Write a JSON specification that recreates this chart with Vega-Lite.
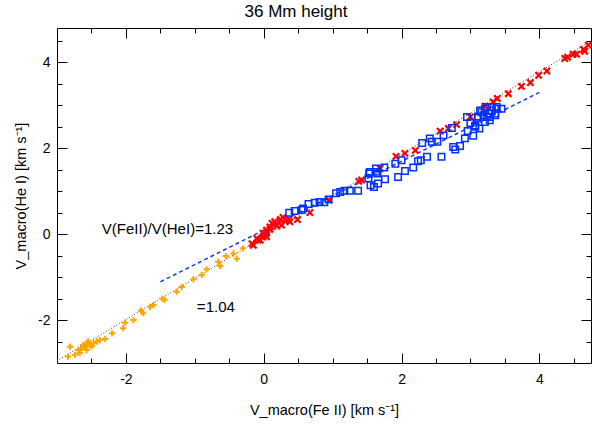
{
  "$schema": "https://vega.github.io/schema/vega-lite/v6.json",
  "width": 534,
  "height": 335,
  "autosize": {"type": "none"},
  "padding": {"left": 57, "top": 28, "right": 1, "bottom": 63},
  "background": "white",
  "title": {"text": "36 Mm height", "font": "Liberation Sans", "fontSize": 17, "fontWeight": "normal", "color": "black", "anchor": "middle", "dx": -28, "offset": 7},
  "config": {
    "view": {"stroke": "black", "strokeWidth": 1},
    "axis": {"grid": true, "gridColor": "black", "gridWidth": 1, "gridOpacity": 1, "ticks": false, "domain": false, "tickCount": 100,
      "labelFont": "Liberation Sans", "labelFontSize": 14, "labelColor": "black", "labelFlush": false, "labelOverlap": false,
      "titleFont": "Liberation Sans", "titleFontSize": 14.5, "titleFontWeight": "normal", "titleColor": "black"}
  },
  "datasets": {
    "orange": [
      {"x": -2.84, "y": -2.85}, {"x": -2.74, "y": -2.81}, {"x": -2.81, "y": -2.62}, {"x": -2.69, "y": -2.70},
      {"x": -2.67, "y": -2.77}, {"x": -2.64, "y": -2.66}, {"x": -2.59, "y": -2.62}, {"x": -2.57, "y": -2.70},
      {"x": -2.55, "y": -2.50}, {"x": -2.52, "y": -2.58}, {"x": -2.47, "y": -2.54}, {"x": -2.42, "y": -2.50},
      {"x": -2.38, "y": -2.47}, {"x": -2.30, "y": -2.44}, {"x": -2.20, "y": -2.31}, {"x": -2.04, "y": -2.19},
      {"x": -2.01, "y": -2.06}, {"x": -1.89, "y": -2.00}, {"x": -1.78, "y": -1.78}, {"x": -1.75, "y": -1.84},
      {"x": -1.65, "y": -1.69}, {"x": -1.60, "y": -1.65}, {"x": -1.47, "y": -1.50}, {"x": -1.44, "y": -1.53},
      {"x": -1.26, "y": -1.34}, {"x": -1.19, "y": -1.23}, {"x": -1.02, "y": -1.05}, {"x": -0.90, "y": -0.95},
      {"x": -0.83, "y": -0.82}, {"x": -0.66, "y": -0.64}, {"x": -0.63, "y": -0.74}, {"x": -0.55, "y": -0.51},
      {"x": -0.39, "y": -0.57}, {"x": -0.44, "y": -0.45}, {"x": -0.30, "y": -0.33}, {"x": 0.21, "y": 0.33},
      {"x": -0.03, "y": -0.06}, {"x": -2.62, "y": -2.58}, {"x": -2.50, "y": -2.62}, {"x": -2.57, "y": -2.55}
    ],
    "red": [
      {"x": -0.17, "y": -0.22}, {"x": -0.15, "y": -0.26}, {"x": -0.10, "y": -0.10}, {"x": -0.08, "y": -0.14},
      {"x": -0.05, "y": -0.14}, {"x": -0.01, "y": 0.02}, {"x": -0.01, "y": -0.06}, {"x": 0.04, "y": 0.09},
      {"x": 0.04, "y": -0.06}, {"x": 0.04, "y": 0.02}, {"x": 0.09, "y": 0.17}, {"x": 0.09, "y": 0.11},
      {"x": 0.12, "y": 0.25}, {"x": 0.16, "y": 0.29}, {"x": 0.19, "y": 0.19}, {"x": 0.24, "y": 0.34},
      {"x": 0.26, "y": 0.21}, {"x": 0.28, "y": 0.39}, {"x": 0.31, "y": 0.33}, {"x": 0.36, "y": 0.34},
      {"x": 0.38, "y": 0.29}, {"x": 0.49, "y": 0.34}, {"x": 0.67, "y": 0.50}, {"x": 0.95, "y": 0.79},
      {"x": 1.38, "y": 1.23}, {"x": 1.42, "y": 1.26}, {"x": 1.69, "y": 1.53}, {"x": 1.92, "y": 1.81},
      {"x": 2.05, "y": 1.88}, {"x": 2.20, "y": 1.95}, {"x": 2.56, "y": 2.40}, {"x": 2.68, "y": 2.46},
      {"x": 2.80, "y": 2.55}, {"x": 3.00, "y": 2.73}, {"x": 3.21, "y": 2.98}, {"x": 3.33, "y": 3.08},
      {"x": 3.39, "y": 3.16}, {"x": 3.55, "y": 3.27}, {"x": 3.74, "y": 3.44}, {"x": 3.87, "y": 3.53},
      {"x": 3.99, "y": 3.70}, {"x": 4.11, "y": 3.80}, {"x": 4.37, "y": 4.09}, {"x": 4.41, "y": 4.12},
      {"x": 4.49, "y": 4.19}, {"x": 4.54, "y": 4.19}, {"x": 4.64, "y": 4.30}, {"x": 4.66, "y": 4.26},
      {"x": 4.71, "y": 4.40}
    ],
    "blue": [
      {"x": 0.37, "y": 0.50}, {"x": 0.45, "y": 0.54}, {"x": 0.55, "y": 0.56}, {"x": 0.57, "y": 0.60},
      {"x": 0.65, "y": 0.70}, {"x": 0.74, "y": 0.73}, {"x": 0.81, "y": 0.75}, {"x": 0.88, "y": 0.74},
      {"x": 0.94, "y": 0.81}, {"x": 1.05, "y": 0.95}, {"x": 1.11, "y": 0.98}, {"x": 1.17, "y": 1.01},
      {"x": 1.25, "y": 1.01}, {"x": 1.37, "y": 1.01}, {"x": 1.52, "y": 1.30}, {"x": 1.53, "y": 1.41},
      {"x": 1.63, "y": 1.45}, {"x": 1.63, "y": 1.53}, {"x": 1.60, "y": 1.10}, {"x": 1.66, "y": 1.18},
      {"x": 1.55, "y": 1.14}, {"x": 1.76, "y": 1.28}, {"x": 1.95, "y": 1.33}, {"x": 2.05, "y": 1.47},
      {"x": 2.17, "y": 1.55}, {"x": 2.24, "y": 1.70}, {"x": 2.37, "y": 1.80}, {"x": 1.54, "y": 1.45},
      {"x": 1.65, "y": 1.41}, {"x": 1.75, "y": 1.55}, {"x": 1.91, "y": 1.64}, {"x": 2.00, "y": 1.72},
      {"x": 2.28, "y": 1.72}, {"x": 2.58, "y": 1.80}, {"x": 2.30, "y": 2.12}, {"x": 2.41, "y": 2.23},
      {"x": 2.44, "y": 2.15}, {"x": 2.52, "y": 2.15}, {"x": 2.61, "y": 2.30}, {"x": 2.73, "y": 2.47},
      {"x": 2.75, "y": 2.03}, {"x": 2.85, "y": 2.05}, {"x": 2.78, "y": 1.97}, {"x": 2.92, "y": 2.23},
      {"x": 3.04, "y": 2.29}, {"x": 2.96, "y": 2.40}, {"x": 2.95, "y": 2.73}, {"x": 3.00, "y": 2.59},
      {"x": 3.07, "y": 2.53}, {"x": 3.13, "y": 2.46}, {"x": 3.11, "y": 2.74}, {"x": 3.16, "y": 2.84},
      {"x": 3.21, "y": 2.92}, {"x": 3.26, "y": 2.81}, {"x": 3.31, "y": 2.88}, {"x": 3.36, "y": 2.77},
      {"x": 3.28, "y": 2.65}, {"x": 3.21, "y": 2.61}, {"x": 3.38, "y": 2.92}, {"x": 3.24, "y": 2.73},
      {"x": 3.14, "y": 2.88}, {"x": 3.24, "y": 2.96}, {"x": 3.31, "y": 2.96}, {"x": 3.38, "y": 2.96},
      {"x": 3.45, "y": 2.92}, {"x": 3.19, "y": 2.77}, {"x": 3.28, "y": 2.73}, {"x": 3.36, "y": 2.81},
      {"x": 3.11, "y": 2.71}, {"x": 3.07, "y": 2.50}
    ],
    "fit104": [{"x": -3.0, "y": -2.95}, {"x": 4.75, "y": 4.50}],
    "fit123": [{"x": -1.5, "y": -1.11}, {"x": 4.0, "y": 3.30}],
    "notes": [
      {"x": -2.35, "y": 0.12, "label": "V(FeII)/V(HeI)=1.23"},
      {"x": -0.97, "y": -1.70, "label": "=1.04"}
    ]
  },
  "layer": [
    {
      "data": {"name": "fit104"},
      "mark": {"type": "line", "color": "#333333", "strokeWidth": 1, "strokeDash": [1, 2], "clip": true},
      "encoding": {
        "x": {"field": "x", "type": "quantitative", "scale": {"domain": [-3, 4.75], "nice": false, "zero": false},
          "axis": {"orient": "bottom", "title": "V_macro(Fe II) [km s⁻¹]", "tickCount": 100,
            "values": [-2.5, -2, -1.5, -1, -0.5, 0, 0.5, 1, 1.5, 2, 2.5, 3, 3.5, 4, 4.5],
            "labelExpr": "datum.value % 2 === 0 ? '' + datum.value : ''",
            "gridDash": {"condition": {"test": "datum.value % 2 === 0", "value": [10, 315, 10, 2000]}, "value": [5, 325, 5, 2000]},
            "labelPadding": 9, "titlePadding": 17}},
        "y": {"field": "y", "type": "quantitative", "scale": {"domain": [-3, 4.8], "nice": false, "zero": false},
          "axis": {"orient": "left", "title": "V_macro(He I) [km s⁻¹]", "tickCount": 100,
            "values": [-2.5, -2, -1.5, -1, -0.5, 0, 0.5, 1, 1.5, 2, 2.5, 3, 3.5, 4, 4.5],
            "labelExpr": "datum.value % 2 === 0 ? '' + datum.value : ''",
            "gridDash": {"condition": {"test": "datum.value % 2 === 0", "value": [10, 514, 10, 2000]}, "value": [5, 524, 5, 2000]},
            "labelPadding": 7, "titlePadding": 9}}
      }
    },
    {
      "data": {"name": "fit123"},
      "mark": {"type": "line", "color": "#1040ff", "strokeWidth": 1.5, "strokeDash": [4, 3]},
      "encoding": {"x": {"field": "x", "type": "quantitative"}, "y": {"field": "y", "type": "quantitative"}}
    },
    {
      "data": {"name": "orange"},
      "mark": {"type": "point", "shape": "M-1,0L1,0M0,-1L0,1", "filled": false, "stroke": "#ffa500", "strokeWidth": 2, "size": 40, "opacity": 1},
      "encoding": {"x": {"field": "x", "type": "quantitative"}, "y": {"field": "y", "type": "quantitative"}}
    },
    {
      "data": {"name": "red"},
      "mark": {"type": "point", "shape": "M-1,-1L1,1M-1,1L1,-1", "filled": false, "stroke": "#ff0000", "strokeWidth": 2.2, "size": 40, "opacity": 1},
      "encoding": {"x": {"field": "x", "type": "quantitative"}, "y": {"field": "y", "type": "quantitative"}}
    },
    {
      "data": {"name": "blue"},
      "mark": {"type": "point", "shape": "square", "filled": false, "stroke": "#0030ff", "strokeWidth": 1.5, "size": 42, "opacity": 1},
      "encoding": {"x": {"field": "x", "type": "quantitative"}, "y": {"field": "y", "type": "quantitative"}}
    },
    {
      "data": {"name": "notes"},
      "mark": {"type": "text", "align": "left", "baseline": "middle", "font": "Liberation Sans", "fontSize": 15, "color": "black"},
      "encoding": {"x": {"field": "x", "type": "quantitative"}, "y": {"field": "y", "type": "quantitative"}, "text": {"field": "label"}}
    }
  ]
}
